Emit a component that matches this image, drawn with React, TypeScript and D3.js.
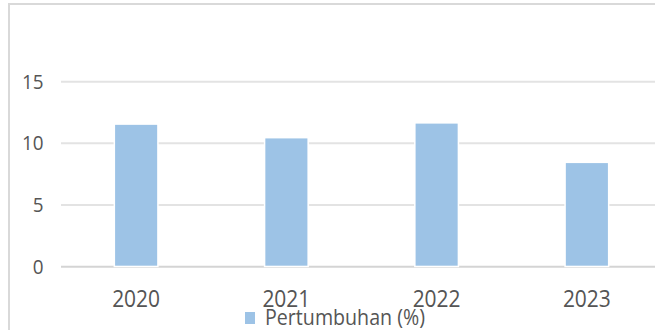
import React from "react";
import * as d3 from "d3";

const categories = ["2020", "2021", "2022", "2023"];
const values = [11.5, 10.4, 11.6, 8.4];
const yTicks = [0, 5, 10, 15];
const seriesName = "Pertumbuhan (%)";

const W = 655;
const H = 330;
const FONT = "'Open Sans', Lato, sans-serif";
const TEXT = "#555555";

export default function App() {
  const x = d3
    .scaleBand<string>()
    .domain(categories)
    .range([61, 662])
    .paddingInner(0.72)
    .paddingOuter(0.36);
  const y = d3.scaleLinear().domain([0, 20]).range([266.7, 20]);

  return (
    <svg
      width={W}
      height={H}
      style={{ position: "absolute", left: 0, top: 0, background: "#fff" }}
    >
      <rect x={0} y={0} width={W} height={H} fill="#fff" />
      <rect
        x={9}
        y={4}
        width={W + 20}
        height={H + 20}
        fill="none"
        stroke="#d9d9d9"
        strokeWidth={2}
      />
      {yTicks.map((t) => (
        <g key={t}>
          <line
            x1={61}
            x2={W + 5}
            y1={y(t)}
            y2={y(t)}
            stroke={t === 0 ? "#d4d4d4" : "#e3e3e3"}
            strokeWidth={2}
          />
          <text
            x={43.5}
            y={y(t)}
            dy="0.36em"
            textAnchor="end"
            fontFamily={FONT}
            fontSize={19.6}
            fill={TEXT}
            textLength={String(t).length * 10.8}
            lengthAdjust="spacingAndGlyphs"
          >
            {t}
          </text>
        </g>
      ))}
      {categories.map((c, i) => (
        <rect
          key={c}
          x={x(c)}
          y={y(values[i])}
          width={x.bandwidth()}
          height={y(0) - y(values[i]) - 1}
          fill="#9dc3e6"
          stroke="#fff"
          strokeWidth={3}
        />
      ))}
      {categories.map((c, i) => (
        <rect
          key={"f" + c}
          x={x(c)}
          y={y(values[i])}
          width={x.bandwidth()}
          height={y(0) - y(values[i]) - 1}
          fill="#9dc3e6"
        />
      ))}
      {categories.map((c) => (
        <text
          key={"l" + c}
          x={(x(c) as number) + x.bandwidth() / 2}
          y={306.5}
          textAnchor="middle"
          fontFamily={FONT}
          fontSize={23}
          fill={TEXT}
          textLength={48}
          lengthAdjust="spacingAndGlyphs"
        >
          {c}
        </text>
      ))}
      <rect x={245} y={312} width={10} height={12} fill="#9dc3e6" />
      <text
        x={265}
        y={325}
        fontFamily={FONT}
        fontSize={21}
        fill={TEXT}
        textLength={160}
        lengthAdjust="spacingAndGlyphs"
      >
        {seriesName}
      </text>
    </svg>
  );
}
